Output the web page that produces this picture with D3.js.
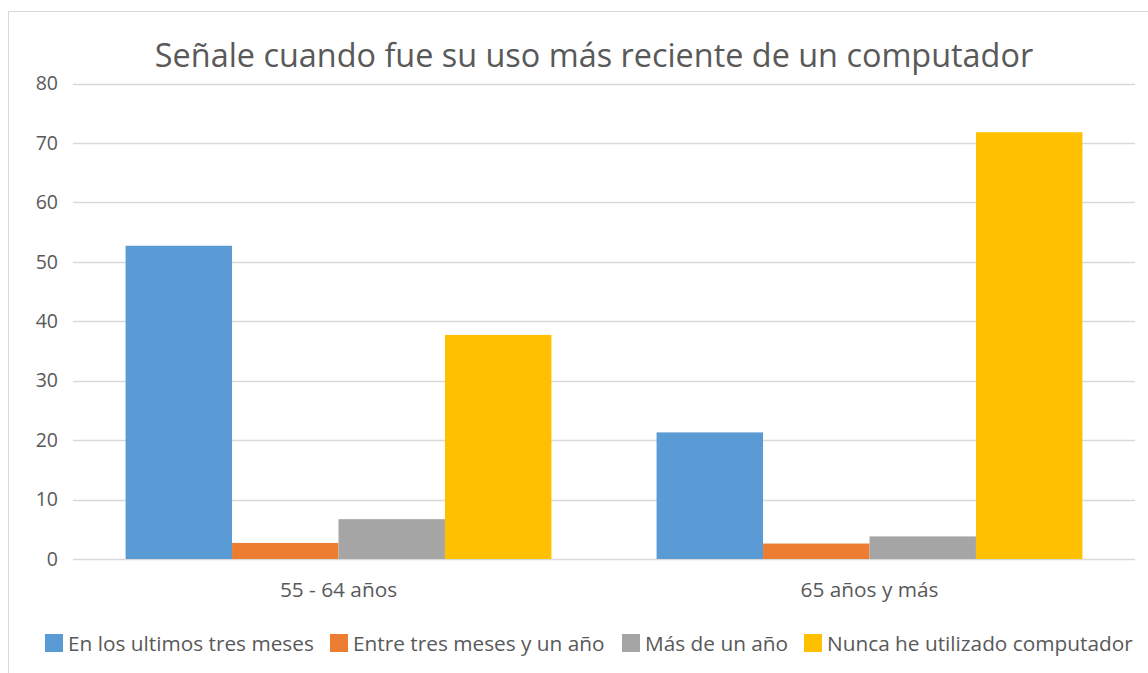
<!DOCTYPE html>
<html><head><meta charset="utf-8">
<script src="https://cdn.jsdelivr.net/npm/d3@7"></script>
<style>body{margin:0;background:#fff}svg{display:block}</style>
</head><body>
<script>
const categories = ["55 - 64 años", "65 años y más"];
const seriesNames = ["En los ultimos tres meses", "Entre tres meses y un año", "Más de un año", "Nunca he utilizado computador"];
const seriesColors = ["#5b9bd5", "#ed7d31", "#a5a5a5", "#ffc000"];
const values = [
  [52.7, 2.7, 6.7, 37.7],
  [21.3, 2.6, 3.8, 71.8]
];
const yTicks = [0, 10, 20, 30, 40, 50, 60, 70, 80];
const title = "Señale cuando fue su uso más reciente de un computador";

(function () {
const W = 1148, H = 673;
const font = "'Open Sans', 'Noto Sans', sans-serif";
const txt = "#595959";
const svg = d3.select("body").append("svg").attr("width", W).attr("height", H);
svg.append("rect").attr("x", 8.5).attr("y", 11.5).attr("width", W + 10).attr("height", H + 10)
  .attr("fill", "#fff").attr("stroke", "#d9d9d9");

const pLeft = 73, pRight = 1135, pTop = 83.5, pBottom = 559;
const x0 = d3.scaleBand().domain(categories).range([pLeft, pRight]).paddingInner(0.198).paddingOuter(0.099);
const x1 = d3.scaleBand().domain(seriesNames).range([0, x0.bandwidth()]);
const y = d3.scaleLinear().domain([0, 80]).range([pBottom, pTop]);

svg.append("g").selectAll("line").data(yTicks).join("line")
  .attr("x1", pLeft).attr("x2", pRight)
  .attr("y1", d => Math.round(y(d)) + 0.5).attr("y2", d => Math.round(y(d)) + 0.5)
  .attr("stroke", "#d9d9d9").attr("stroke-width", 1.3);

const yAxis = d3.axisLeft(y).tickValues(yTicks).tickSize(0).tickPadding(0);
const ya = svg.append("g").attr("transform", `translate(58,0)`).call(yAxis);
ya.select(".domain").remove();
ya.attr("font-size", null).attr("font-family", null);
ya.selectAll("text").attr("font-family", font).attr("font-size", 19.5).attr("fill", txt);

const g = svg.append("g");
categories.forEach((c, ci) => {
  g.append("g").attr("transform", `translate(${x0(c)},0)`)
    .selectAll("rect").data(values[ci]).join("rect")
    .attr("x", (d, i) => x1(seriesNames[i]))
    .attr("width", x1.bandwidth())
    .attr("y", d => y(d))
    .attr("height", d => y(0) - y(d))
    .attr("fill", (d, i) => seriesColors[i]);
});

const xAxis = d3.axisBottom(x0).tickSize(0).tickPadding(0);
const xa = svg.append("g").attr("transform", `translate(0,${pBottom})`).call(xAxis);
xa.select(".domain").remove();
xa.attr("font-size", null).attr("font-family", null);
xa.selectAll("text").attr("dy", null).attr("y", 38).attr("font-family", font).attr("font-size", 20.8).attr("fill", txt);

svg.append("text").attr("x", 594).attr("y", 67).attr("text-anchor", "middle")
  .attr("font-family", font).attr("font-size", 32.4).attr("fill", txt).text(title);

const legendX = [45, 330, 622, 804];
const lg = svg.append("g");
seriesNames.forEach((s, i) => {
  lg.append("rect").attr("x", legendX[i]).attr("y", 634).attr("width", 18).attr("height", 18).attr("fill", seriesColors[i]);
  lg.append("text").attr("x", legendX[i] + 23).attr("y", 651).attr("font-family", font).attr("font-size", 20.8)
    .attr("fill", txt).text(s);
});
})();
</script>
</body></html>
